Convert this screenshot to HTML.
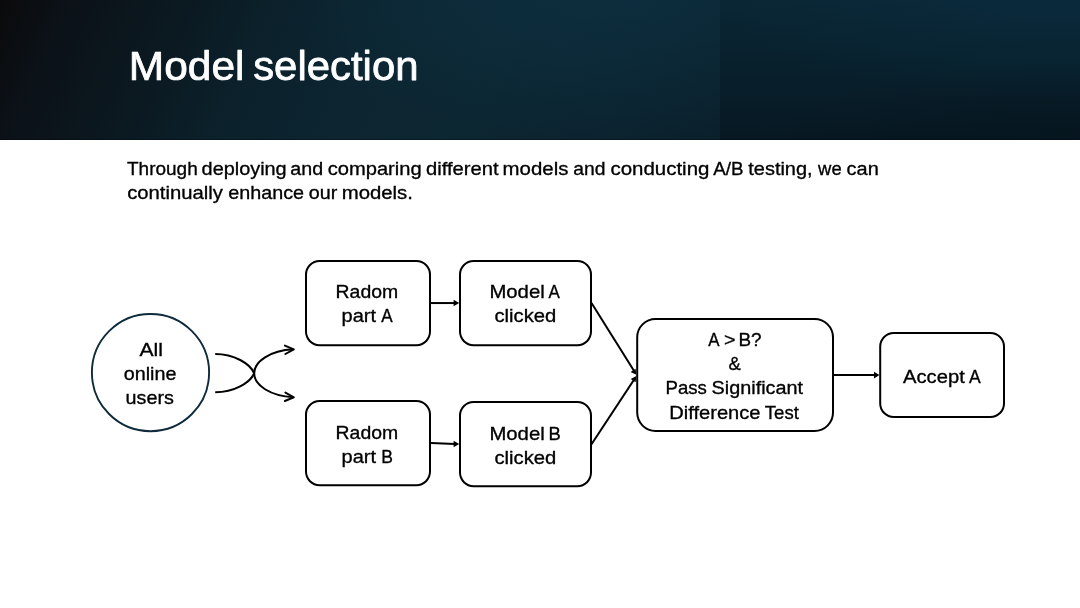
<!DOCTYPE html>
<html lang="en">
<head>
<meta charset="utf-8">
<title>Model selection</title>
<style>
html,body{margin:0;padding:0;background:#fff;}
body{width:1080px;height:608px;overflow:hidden;font-family:"Liberation Sans",sans-serif;}
.slide{position:relative;width:1080px;height:608px;background:#fff;overflow:hidden;}
.banner{position:absolute;left:0;top:0;width:1080px;height:140px;overflow:hidden;background:#0a2230;}
.banner-left{position:absolute;left:0;top:0;width:720px;height:140px;
  background:
    radial-gradient(ellipse 360px 150px at 630px -8px, rgba(14,60,82,.40) 0%, rgba(14,60,82,.21) 50%, rgba(14,60,82,0) 100%),
    linear-gradient(115deg, #0a0a0b 0%, #0b1117 8%, #0b1a22 25%, #0b202a 34%, #0c2531 50%, #0c2632 65%, #0b232f 85%, #0a202b 100%);}
.banner-right{position:absolute;left:720px;top:0;width:360px;height:140px;
  background:
    radial-gradient(ellipse 330px 110px at 330px -5px, rgba(10,52,78,.30) 0%, rgba(10,52,78,0) 100%),
    radial-gradient(ellipse 320px 90px at 360px 148px, rgba(2,10,16,.24) 0%, rgba(2,10,16,0) 100%),
    linear-gradient(180deg, #0a2634 0%, #08202c 50%, #071822 100%);}
.banner::after{content:"";position:absolute;left:0;top:139px;width:1080px;height:1px;background:rgba(0,0,0,.3);}
.title-wrap{margin:0;padding:0;font-weight:normal;position:absolute;left:0;top:0;width:1080px;height:140px;font-size:0;line-height:0;}
.title-svg{position:absolute;left:0;top:0;will-change:transform;display:block;}
.title{font-weight:normal;fill:#fff;stroke:#fff;stroke-width:.75px;stroke-linejoin:round;font-family:"Liberation Sans",sans-serif;}
.body-svg{position:absolute;left:0;top:0;will-change:transform;}
.para text,.labels text{fill:#000;stroke:#000;stroke-width:.32px;font-family:"Liberation Sans",sans-serif;}
.box{fill:#fff;stroke:#000;stroke-width:2;}
.circle{fill:#fff;stroke:#0e2a3b;stroke-width:1.9;}
.conn{fill:none;stroke:#000;stroke-width:2;stroke-linecap:butt;}
.curve{fill:none;stroke:#000;stroke-width:2;stroke-linecap:butt;stroke-linejoin:round;}
.wing{fill:none;stroke:#000;stroke-width:2;stroke-linecap:round;stroke-linejoin:round;}
.head{fill:#000;stroke:none;}
</style>
</head>
<body>
<div class="slide">
  <header class="banner">
    <div class="banner-left"></div>
    <div class="banner-right"></div>
    <h1 class="title-wrap"><svg class="title-svg" width="1080" height="140" viewBox="0 0 1080 140">
      <text class="title" font-size="40.6" transform="matrix(1.0465 0 0 1 128.78 80.40)">Model </text>
      <text class="title" font-size="40.6" transform="matrix(1.0323 0 0 1 253.15 80.40)">selection</text>
    </svg></h1>
  </header>
  <svg class="body-svg" width="1080" height="608" viewBox="0 0 1080 608">
    <g class="para" font-size="18.0">
      <g class="line">
        <text transform="matrix(1.0555 0 0 1 127.00 174.70)">Through </text>
        <text transform="matrix(1.1048 0 0 1 201.58 174.70)">deploying </text>
        <text transform="matrix(1.0928 0 0 1 290.29 174.70)">and </text>
        <text transform="matrix(1.1192 0 0 1 327.67 174.70)">comparing </text>
        <text transform="matrix(1.1213 0 0 1 426.07 174.70)">different </text>
        <text transform="matrix(1.1342 0 0 1 502.62 174.70)">models </text>
        <text transform="matrix(1.0717 0 0 1 573.30 174.70)">and </text>
        <text transform="matrix(1.1370 0 0 1 610.46 174.70)">conducting </text>
        <text transform="matrix(1.0440 0 0 1 713.30 174.70)">A/B </text>
        <text transform="matrix(1.1078 0 0 1 748.30 174.70)">testing, </text>
        <text transform="matrix(1.0239 0 0 1 818.09 174.70)">we </text>
        <text transform="matrix(1.1075 0 0 1 846.58 174.70)">can</text>
      </g>
      <g class="line">
        <text transform="matrix(1.1268 0 0 1 127.17 198.70)">continually </text>
        <text transform="matrix(1.0978 0 0 1 228.28 198.70)">enhance </text>
        <text transform="matrix(1.0960 0 0 1 308.78 198.70)">our </text>
        <text transform="matrix(1.1298 0 0 1 341.73 198.70)">models.</text>
      </g>
    </g>
    <g class="diagram">
      <circle class="circle" cx="150.5" cy="372.6" r="58.6"/>
      <path class="curve" d="M215.2 354.05 C234 354.05 250 363.5 254.2 373.25"/>
      <path class="curve" d="M215.2 392.3 C234 392.3 250 383 254.2 373.25"/>
      <path class="curve" d="M293.5 349.3 C270 350.6 254.2 361.3 254.2 373.25 C254.2 385.2 270 395.9 293.5 397.25"/>
      <path class="wing" d="M284.9 345.6 L293.8 349.3 L285.4 354"/>
      <path class="wing" d="M285.4 392.6 L293.8 397.25 L284.9 401"/>
      <rect class="box" x="306" y="261" width="124" height="84.2" rx="13.6" ry="13.6"/>
      <rect class="box" x="306" y="401" width="124" height="84.2" rx="13.6" ry="13.6"/>
      <rect class="box" x="460" y="261" width="131" height="84.2" rx="13.6" ry="13.6"/>
      <rect class="box" x="460" y="402" width="131" height="84.2" rx="13.6" ry="13.6"/>
      <rect class="box" x="637.2" y="319" width="195.8" height="112" rx="18.4" ry="18.4"/>
      <rect class="box" x="880.2" y="333" width="123.8" height="84" rx="13.6" ry="13.6"/>
      <path class="conn" d="M431 303.05 L455 303.05"/>
      <path class="head" d="M453.6 299.8 L459.2 303.05 L453.6 306.3 Z"/>
      <path class="conn" d="M431 443.1 L455 443.95"/>
      <path class="head" d="M453.6 440.8 L459.2 444.1 L453.6 447.3 Z"/>
      <path class="conn" d="M591.5 303 L634.6 371.8"/>
      <path class="conn" d="M591.5 444.3 L634.8 378.5"/>
      <path class="head" d="M636.4 374.8 L630.6 372 L635.6 368.8 Z"/>
      <path class="head" d="M636.4 375.9 L635.6 382.2 L630.7 379 Z"/>
      <path class="conn" d="M834 375.1 L876 375.1"/>
      <path class="head" d="M874 371.7 L879.4 375.1 L874 378.5 Z"/>
    </g>
    <g class="labels" font-size="18.0">
      <g class="label circle">
        <text transform="matrix(1.1744 0 0 1 139.40 356.00)">All</text>
        <text transform="matrix(1.0973 0 0 1 123.78 380.00)">online</text>
        <text transform="matrix(1.0986 0 0 1 125.56 404.00)">users</text>
      </g>
      <g class="label radomA">
        <text transform="matrix(1.0792 0 0 1 335.58 297.80)">Radom</text>
        <text transform="matrix(1.1117 0 0 1 341.55 321.90)">part </text>
        <text transform="matrix(0.9509 0 0 1 381.20 321.90)">A</text>
      </g>
      <g class="label modelA">
        <text transform="matrix(1.1285 0 0 1 489.41 297.80)">Model </text>
        <text transform="matrix(0.9426 0 0 1 548.60 297.80)">A</text>
        <text transform="matrix(1.1245 0 0 1 494.47 321.80)">clicked</text>
      </g>
      <g class="label radomB">
        <text transform="matrix(1.0792 0 0 1 335.58 438.70)">Radom</text>
        <text transform="matrix(1.1117 0 0 1 341.55 462.70)">part </text>
        <text transform="matrix(0.9752 0 0 1 381.23 462.70)">B</text>
      </g>
      <g class="label modelB">
        <text transform="matrix(1.1285 0 0 1 489.41 439.80)">Model </text>
        <text transform="matrix(1.0260 0 0 1 548.46 439.80)">B</text>
        <text transform="matrix(1.1245 0 0 1 494.47 463.80)">clicked</text>
      </g>
      <g class="label test">
        <text transform="matrix(0.9385 0 0 1 708.25 345.90)">A </text>
        <text transform="matrix(1.0889 0 0 1 723.88 345.90)">&gt; </text>
        <text transform="matrix(1.0515 0 0 1 738.42 345.90)">B?</text>
        <text transform="matrix(1.0222 0 0 1 728.42 370.00)">&amp;</text>
        <text transform="matrix(1.0329 0 0 1 665.55 394.10)">Pass </text>
        <text transform="matrix(1.1012 0 0 1 711.58 394.10)">Significant</text>
        <text transform="matrix(1.1172 0 0 1 669.23 418.50)">Difference </text>
        <text transform="matrix(1.0307 0 0 1 764.81 418.50)">Test</text>
      </g>
      <g class="label accept">
        <text transform="matrix(1.1227 0 0 1 903.05 382.60)">Accept </text>
        <text transform="matrix(0.9757 0 0 1 969.10 382.60)">A</text>
      </g>
    </g>
  </svg>
</div>
</body>
</html>
